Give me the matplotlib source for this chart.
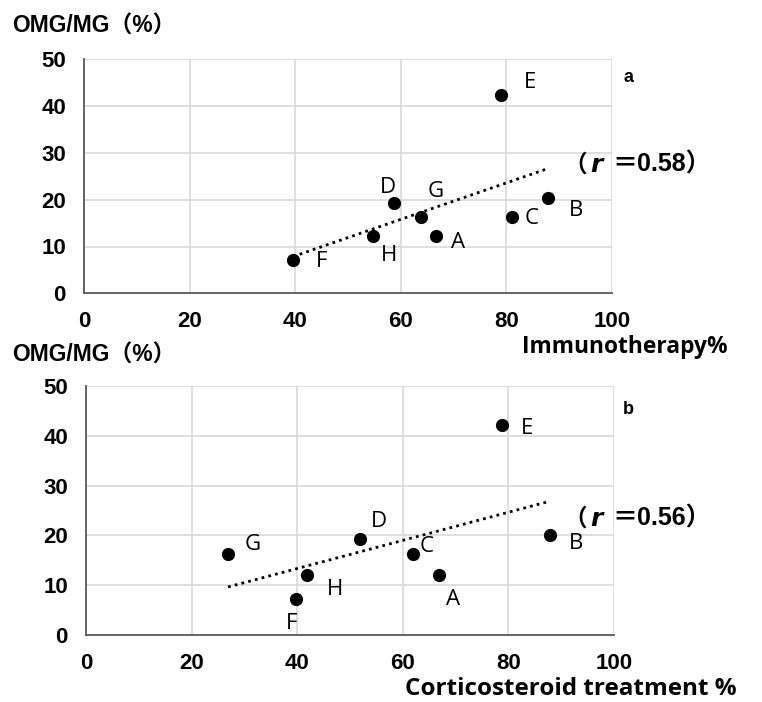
import numpy as np
import matplotlib
matplotlib.use("Agg")
import matplotlib.pyplot as plt

# ---- data ----
labels = ["A", "B", "C", "D", "E", "F", "G", "H"]
immuno_x = [66.7, 87.9, 81.0, 58.7, 78.9, 39.6, 63.8, 54.7]
immuno_y = [12.3, 20.3, 16.4, 19.2, 42.4, 7.1, 16.4, 12.3]
cortico_x = [66.9, 87.8, 61.9, 51.8, 78.8, 39.8, 26.9, 41.8]
cortico_y = [12.0, 20.1, 16.2, 19.2, 42.2, 7.2, 16.2, 12.0]
r_values = ["0.58", "0.56"]
xticks = [0, 20, 40, 60, 80, 100]
yticks = [0, 10, 20, 30, 40, 50]

# label offsets in pixels (dx, dy)
off_a = {"A": (22, -7), "B": (28, -12), "C": (20, -2), "D": (-6, 16),
         "E": (29, 12), "F": (28, -1), "G": (15, 25), "H": (16, -20)}
off_b = {"A": (14, -24), "B": (26, -9), "C": (14, 8), "D": (19, 18),
         "E": (25, -4), "F": (-5, -24), "G": (25, 10), "H": (28, -14)}

W, H = 762, 702
fig = plt.figure(figsize=(W / 100, H / 100), dpi=100)

BOLD = ["Liberation Sans", "Noto Sans CJK SC"]
LABF = ["Open Sans", "Noto Sans CJK SC"]


def px_rect(x0, y0, x1, y1):
    return [x0 / W, 1 - y1 / H, (x1 - x0) / W, (y1 - y0) / H]


def draw_panel(rect, xs, ys, offs):
    ax = fig.add_axes(rect)
    ax.set_xlim(0, 100)
    ax.set_ylim(0, 50)
    ax.set_xticks(xticks)
    ax.set_yticks(yticks)
    ax.set_xticklabels([str(t) for t in xticks])
    ax.set_yticklabels([str(t) for t in yticks])
    ax.grid(True, color="#d9d9d9", linewidth=1.2)
    ax.set_axisbelow(True)
    for s in ["top", "right"]:
        ax.spines[s].set_visible(False)
    for s in ["left", "bottom"]:
        ax.spines[s].set_color("#595959")
        ax.spines[s].set_linewidth(1.3)
    ax.tick_params(length=0, pad=13, labelsize=16)
    for lab in ax.get_xticklabels() + ax.get_yticklabels():
        lab.set_fontweight("bold")
        lab.set_family("Liberation Sans")
    # trend line
    k, b = np.polyfit(xs, ys, 1)
    xl = np.array([min(xs), max(xs)])
    ax.plot(xl, k * xl + b, linestyle=(0, (1, 1.5)), color="black", linewidth=2.0)
    ax.scatter(xs, ys, s=72, color="black", zorder=3)
    for name, x, y in zip(labels, xs, ys):
        dx, dy = offs[name]
        ax.annotate(name, (x, y), xytext=(dx, dy), textcoords="offset pixels",
                    ha="center", va="center", fontsize=16, family="Open Sans")
    return ax


axa = draw_panel(px_rect(84, 59.3, 612, 293.3), immuno_x, immuno_y, off_a)
axb = draw_panel(px_rect(86, 386, 614, 635), cortico_x, cortico_y, off_b)


def ftext(x, y, s, **kw):
    fig.text(x / W, 1 - y / H, s, **kw)


# y-axis titles
ftext(12, 26, "OMG/MG（%）", ha="left", va="center", fontsize=16.5,
      fontweight="bold", family=BOLD)
ftext(12, 355, "OMG/MG（%）", ha="left", va="center", fontsize=16.5,
      fontweight="bold", family=BOLD)
# x-axis titles
ftext(522, 347, "Immunotherapy%", ha="left", va="center", fontsize=16.4,
      fontweight="bold", family=LABF)
ftext(405, 689, "Corticosteroid treatment %", ha="left", va="center", fontsize=17.5,
      fontweight="bold", family=LABF)
# panel letters
ftext(628, 78, "a", ha="center", va="center", fontsize=13, fontweight="bold",
      family=BOLD)
ftext(628, 410, "b", ha="center", va="center", fontsize=13, fontweight="bold",
      family=BOLD)

# r annotations
for yc, rv in [(165, r_values[0]), (519, r_values[1])]:
    ftext(587, yc, "（", ha="right", va="center", fontsize=17, fontweight="bold",
          family=BOLD)
    ftext(590, yc, "r", ha="left", va="center", fontsize=18, fontweight="bold",
          style="italic", family="DejaVu Sans")
    ftext(612, yc, "＝" + rv + "）", ha="left", va="center", fontsize=18,
          fontweight="bold", family=BOLD)

fig.savefig("out.png", dpi=100)
